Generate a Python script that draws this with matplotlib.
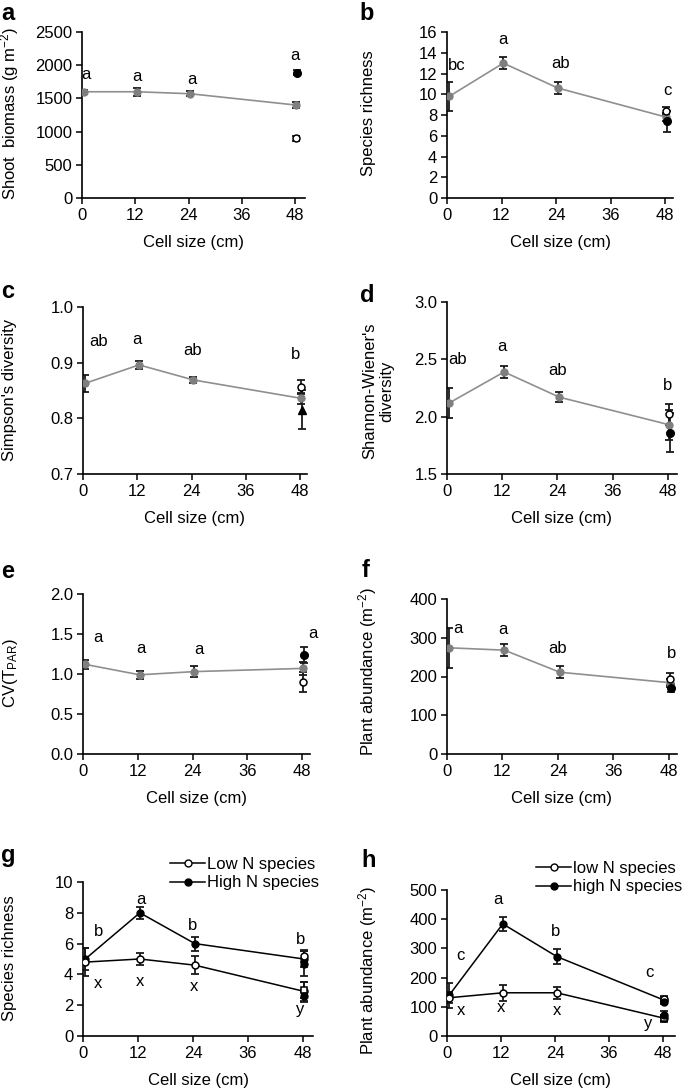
import matplotlib
matplotlib.use('Agg')
import matplotlib.pyplot as plt
from matplotlib.lines import Line2D
import numpy as np

plt.rcParams['font.family'] = ['Liberation Sans', 'DejaVu Sans']
plt.rcParams['mathtext.fontset'] = 'custom'
plt.rcParams['mathtext.rm'] = 'Liberation Sans'
plt.rcParams['mathtext.it'] = 'Liberation Sans:italic'
plt.rcParams['mathtext.bf'] = 'Liberation Sans:bold'

W, H = 685, 1090
fig = plt.figure(figsize=(W / 100, H / 100), dpi=100)

# ---------------- data ----------------
cell_size = [0, 12, 24, 48]
xticks = [0, 12, 24, 36, 48]

# panel a: shoot biomass
a_mean = [1600, 1600, 1570, 1400]
a_se = [30, 60, 40, 50]
a_open48 = (900, 40)
a_black48 = (1890, 40)
a_letters = ['a', 'a', 'a', 'a']
a_lx = [1.0, 12.4, 24.8, 48.0]
a_ly = [1867, 1837, 1792, 2139]

# panel b: species richness
b_mean = [9.8, 13.0, 10.6, 7.8]
b_se = [1.4, 0.6, 0.6, 0.4]
b_open48 = (8.4, 0.4)
b_black48 = (7.4, 1.0)
b_letters = ['bc', 'a', 'ab', 'c']
b_lx = [2.2, 12.3, 24.9, 48.5]
b_ly = [12.8, 15.3, 13.0, 10.4]

# panel c: Simpson's diversity
c_mean = [0.863, 0.896, 0.869, 0.836]
c_se = [0.015, 0.007, 0.005, 0.010]
c_open48 = (0.856, 0.012)
c_black48 = (0.815, 0.035)
c_letters = ['ab', 'a', 'ab', 'b']
c_lx = [3.5, 12.0, 24.3, 47.1]
c_ly = [0.938, 0.941, 0.921, 0.915]

# panel d: Shannon-Wiener diversity
d_mean = [2.12, 2.39, 2.17, 1.93]
d_se = [0.13, 0.05, 0.045, 0.13]
d_open48 = (2.02, 0.09)
d_black48 = (1.86, 0.17)
d_letters = ['ab', 'a', 'ab', 'b']
d_lx = [2.4, 12.0, 24.1, 48.0]
d_ly = [2.50, 2.616, 2.40, 2.27]

# panel e: CV(T_PAR)
e_mean = [1.12, 0.99, 1.03, 1.07]
e_se = [0.06, 0.05, 0.07, 0.08]
e_open48 = (0.90, 0.13)
e_black48 = (1.24, 0.10)
e_letters = ['a', 'a', 'a', 'a']
e_lx = [3.3, 12.7, 25.5, 50.5]
e_ly = [1.45, 1.32, 1.30, 1.51]

# panel f: plant abundance
f_mean = [274, 268, 211, 184]
f_se = [52, 15, 15, 10]
f_open48 = (193, 15)
f_black48 = (170, 10)
f_letters = ['a', 'a', 'ab', 'b']
f_lx = [2.4, 12.0, 24.0, 48.5]
f_ly = [324, 320, 273, 260]

# panel g: species richness by N group
g_high = [5.0, 8.0, 6.0, 5.0]
g_high_se = [0.7, 0.4, 0.45, 0.5]
g_low = [4.8, 5.0, 4.6, 2.9]
g_low_se = [0.9, 0.4, 0.6, 0.6]
g_high_open48 = (5.2, 0.4)
g_high_black48 = (4.7, 0.8)
g_low_open48 = (3.0, 0.5)
g_low_black48 = (2.6, 0.4)
g_letters_high = ['b', 'a', 'b', 'b']
g_lx_high = [3.3, 12.6, 23.9, 47.4]
g_ly_high = [6.77, 8.88, 7.2, 6.28]
g_letters_low = ['x', 'x', 'x', 'y']
g_lx_low = [3.3, 12.4, 24.2, 47.4]
g_ly_low = [3.42, 3.53, 3.2, 1.69]

# panel h: plant abundance by N group
h_high = [140, 384, 272, 123]
h_high_se = [43, 25, 25, 10]
h_low = [131, 148, 148, 61]
h_low_se = [18, 28, 20, 12]
h_high_open48 = (128, 8)
h_high_black48 = (118, 10)
h_low_open48 = (60, 10)
h_low_black48 = (72, 12)
h_letters_high = ['c', 'a', 'b', 'c']
h_lx_high = [2.9, 11.4, 24.1, 44.9]
h_ly_high = [277, 466, 357, 217]
h_letters_low = ['x', 'x', 'x', 'y']
h_lx_low = [3.2, 12.0, 24.4, 44.8]
h_ly_low = [87, 98, 86, 43]

# ---------------- style ----------------
FS = 12
GRAY_LINE = '#8f8f8f'
GRAY_MK = '#7f7f7f'
EB = dict(ecolor='#1a1a1a', elinewidth=1.3, capsize=3.2, capthick=1.3, fmt='none', zorder=2)
XOFF = np.array([0.5, 0.4, 0.4, 0.2])


def make_ax(left, x48, right, top, bottom, ylim, yticks, yfmt):
    ax = fig.add_axes([left / W, 1 - bottom / H, (right - left) / W, (bottom - top) / H])
    scale = (x48 - left) / 48.0
    ax.set_xlim(0, (right - left) / scale)
    ax.set_ylim(*ylim)
    ax.set_xticks(xticks)
    ax.set_yticks(yticks)
    ax.set_yticklabels([yfmt.format(v) for v in yticks])
    for s in ['top', 'right']:
        ax.spines[s].set_visible(False)
    for s in ['left', 'bottom']:
        ax.spines[s].set_linewidth(1.2)
    ax.tick_params(direction='out', length=4, width=1.1, labelsize=FS, pad=3)
    ax.set_xlabel('Cell size (cm)', fontsize=FS, labelpad=9)
    ax.patch.set_alpha(0)
    return ax


def pooled_panel(ax, mean, se, open48, black48, black_marker='o'):
    x = np.array(cell_size) + XOFF
    ax.errorbar(x, mean, yerr=se, **EB)
    ax.errorbar([x[-1]], [open48[0]], yerr=[open48[1]], **EB)
    ax.errorbar([x[-1] + 0.2], [black48[0]], yerr=[black48[1]], **EB)
    ax.plot(x, mean, color=GRAY_LINE, lw=1.2, zorder=3)
    ax.plot(x, mean, 'o', color=GRAY_MK, ms=5, mec=GRAY_MK, zorder=4)
    ax.plot([x[-1]], [open48[0]], 'o', mfc='white', mec='black', mew=1.1, ms=5, zorder=5)
    ax.plot([x[-1] + 0.2], [black48[0]], black_marker, color='black', ms=5.5, zorder=5)


def letters(ax, labs, lx, ly):
    for t, xx, yy in zip(labs, lx, ly):
        ax.text(xx, yy, t, fontsize=FS, ha='center', va='center')


def group_panel(ax, high, high_se, low, low_se, ho, hb, lo, lb):
    x = np.array(cell_size) + XOFF
    for m, s in [(high, high_se), (low, low_se)]:
        ax.errorbar(x, m, yerr=s, **EB)
    for (v, s) in [ho, hb, lo, lb]:
        ax.errorbar([x[-1]], [v], yerr=[s], **EB)
    ax.plot(x, high, '-', color='black', lw=1.1, zorder=3)
    ax.plot(x, low, '-', color='black', lw=1.1, zorder=3)
    ax.plot(x, high, 'o', color='black', ms=5, zorder=4)
    ax.plot(x, low, 'o', mfc='white', mec='black', mew=1.1, ms=5, zorder=4)
    ax.plot([x[-1]], [ho[0]], 'o', mfc='white', mec='black', mew=1.1, ms=5, zorder=5)
    ax.plot([x[-1]], [hb[0]], 'o', color='black', ms=5, zorder=5)
    ax.plot([x[-1]], [lo[0]], 's', mfc='white', mec='black', mew=1.1, ms=5, zorder=5)
    ax.plot([x[-1]], [lb[0]], 'o', color='black', ms=5, zorder=5)


def ylabel(text, xc, yc, fs=FS):
    fig.text(xc / W, 1 - yc / H, text, rotation=90, ha='center', va='center', fontsize=fs)


def panel_letter(t, x, ybase):
    fig.text(x / W, 1 - ybase / H, t, fontsize=17, fontweight='bold', ha='left', va='baseline')


# a
ax = make_ax(82, 295, 305, 32, 198, (0, 2500), [0, 500, 1000, 1500, 2000, 2500], '{:.0f}')
pooled_panel(ax, a_mean, a_se, a_open48, a_black48)
letters(ax, a_letters, a_lx, a_ly)
ylabel('Shoot  biomass (g m$^{-2}$)', 10, 114)
panel_letter('a', 1, 20)

# b
ax = make_ax(447, 665, 673, 32, 198, (0, 16), list(range(0, 17, 2)), '{:.0f}')
pooled_panel(ax, b_mean, b_se, b_open48, b_black48)
letters(ax, b_letters, b_lx, b_ly)
ylabel('Species richness', 368, 113)
panel_letter('b', 359, 20)

# c
ax = make_ax(83, 300, 307, 307, 474, (0.7, 1.0), [0.7, 0.8, 0.9, 1.0], '{:.1f}')
pooled_panel(ax, c_mean, c_se, c_open48, c_black48, black_marker='^')
letters(ax, c_letters, c_lx, c_ly)
ylabel("Simpson's diversity", 10, 390)
panel_letter('c', 1, 298)

# d
ax = make_ax(447, 668, 677, 302, 474, (1.5, 3.0), [1.5, 2.0, 2.5, 3.0], '{:.1f}')
pooled_panel(ax, d_mean, d_se, d_open48, d_black48)
letters(ax, d_letters, d_lx, d_ly)
ylabel("Shannon-Wiener's\ndiversity", 378, 391)
panel_letter('d', 360, 302)

# e
ax = make_ax(83, 302, 310, 594, 754, (0, 2.0), [0, 0.5, 1.0, 1.5, 2.0], '{:.1f}')
pooled_panel(ax, e_mean, e_se, e_open48, e_black48)
letters(ax, e_letters, e_lx, e_ly)
ylabel('CV(T$_{\\mathrm{PAR}}$)', 10, 673)
panel_letter('e', 1, 578)

# f
ax = make_ax(447, 669, 677, 599, 754, (0, 400), [0, 100, 200, 300, 400], '{:.0f}')
pooled_panel(ax, f_mean, f_se, f_open48, f_black48)
letters(ax, f_letters, f_lx, f_ly)
ylabel('Plant abundance (m$^{-2}$)', 368, 671)
panel_letter('f', 362, 577)

# g
ax = make_ax(83, 303, 313, 882, 1036, (0, 10), [0, 2, 4, 6, 8, 10], '{:.0f}')
group_panel(ax, g_high, g_high_se, g_low, g_low_se,
            g_high_open48, g_high_black48, g_low_open48, g_low_black48)
letters(ax, g_letters_high, g_lx_high, g_ly_high)
letters(ax, g_letters_low, g_lx_low, g_ly_low)
ylabel('Species richness', 10, 958)
panel_letter('g', 1, 862)
h_open = Line2D([], [], color='black', lw=1.1, marker='o', mfc='white', mec='black', ms=5)
h_fill = Line2D([], [], color='black', lw=1.1, marker='o', mfc='black', mec='black', ms=5)
fig.legend([h_open, h_fill], ['Low N species', 'High N species'], loc='upper left',
           bbox_to_anchor=(170 / W, 1 - 857 / H), frameon=False, fontsize=FS,
           handlelength=2.1, handletextpad=0.1, labelspacing=0.2, borderpad=0,
           borderaxespad=0, numpoints=1)

# h
ax = make_ax(447, 663, 675, 890, 1036, (0, 500), [0, 100, 200, 300, 400, 500], '{:.0f}')
group_panel(ax, h_high, h_high_se, h_low, h_low_se,
            h_high_open48, h_high_black48, h_low_open48, h_low_black48)
letters(ax, h_letters_high, h_lx_high, h_ly_high)
letters(ax, h_letters_low, h_lx_low, h_ly_low)
ylabel('Plant abundance (m$^{-2}$)', 368, 970)
panel_letter('h', 361, 867)
fig.legend([h_open, h_fill], ['low N species', 'high N species'], loc='upper left',
           bbox_to_anchor=(536 / W, 1 - 861 / H), frameon=False, fontsize=FS,
           handlelength=2.1, handletextpad=0.1, labelspacing=0.2, borderpad=0,
           borderaxespad=0, numpoints=1)

fig.savefig('out.png', dpi=100)
